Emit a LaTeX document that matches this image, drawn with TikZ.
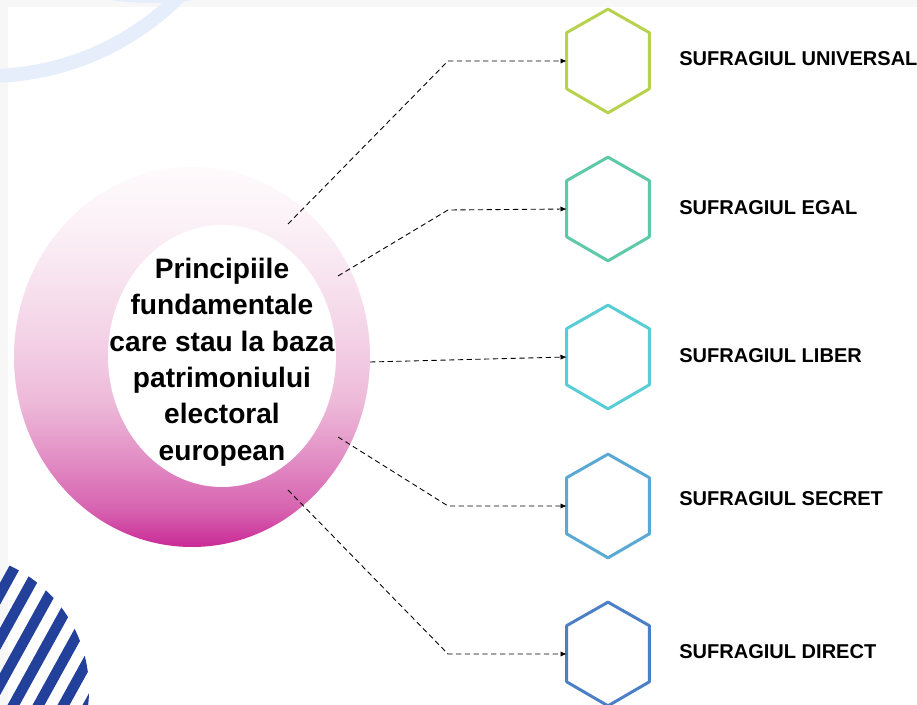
\documentclass[tikz,border=0pt]{standalone}
\usepackage{fontspec}
\setmainfont{Liberation Sans}
\usepackage{tikz}
\usetikzlibrary{arrows.meta}

\definecolor{ringA}{HTML}{C92A95}
\definecolor{ringB}{HTML}{D763B0}
\definecolor{ringC}{HTML}{E497C9}
\definecolor{ringD}{HTML}{EDB9D8}
\definecolor{ringE}{HTML}{F2CBE3}
\definecolor{ringF}{HTML}{F6DDEC}
\definecolor{ringG}{HTML}{FBF0F6}
\definecolor{ringH}{HTML}{FEFAFC}
\definecolor{swirl}{HTML}{E6EEFC}
\definecolor{stripe}{HTML}{23409A}
\definecolor{framegray}{HTML}{F7F7F7}
\definecolor{hexA}{HTML}{B7D24E}
\definecolor{hexB}{HTML}{5DC9A9}
\definecolor{hexC}{HTML}{58CDD6}
\definecolor{hexD}{HTML}{5AA9D5}
\definecolor{hexE}{HTML}{4C80C6}

\pgfdeclareverticalshading{ringfade}{100bp}{color(0bp)=(ringA); color(25bp)=(ringA); color(30bp)=(ringB); color(38bp)=(ringC); color(44bp)=(ringD); color(50bp)=(ringE); color(57.5bp)=(ringF); color(66.7bp)=(ringG); color(75bp)=(ringH); color(100bp)=(ringH)}

\tikzset{
  hexbox/.style={minimum width=1.64cm, minimum height=2.06cm, inner sep=0pt},
  hexline/.style={line width=1.7pt, line join=round},
  lbl/.style={anchor=west, inner sep=0pt, font=\fontsize{11.4}{13}\selectfont\bfseries},
  link/.style={densely dashed, line width=0.5pt, -{Latex[length=3.5pt,width=3pt]}},
}
\newcommand{\hexa}[2]{\draw[hexline,#2] (#1.north) -- ([yshift=-0.47cm]#1.north east) -- ([yshift=0.48cm]#1.south east) -- (#1.south) -- ([yshift=0.48cm]#1.south west) -- ([yshift=-0.47cm]#1.north west) -- cycle;}

\begin{document}
\begin{tikzpicture}[x=0.02cm, y=-0.02cm]
\useasboundingbox (0,0) rectangle (917,705);
\clip (0,0) rectangle (917,705);
\fill[white] (0,0) rectangle (917,705);
\fill[framegray] (0,0) rectangle (917,7);
\fill[framegray] (0,0) rectangle (8,705);
% corner decorations
\draw[swirl, line width=7.9pt] (-13,-196) circle [radius=272];
\draw[swirl, line width=7.9pt] (152,-291) circle [radius=287];
\begin{scope}
\clip (-48,690) circle [radius=137];
\foreach \k in {-6,...,5}
  \draw[stripe, line width=6pt] (16+25*\k-24,744) -- (16+25*\k+97,525);
\end{scope}
% ring
\shade[shading=ringfade] (192,357) ellipse [x radius=178, y radius=190];
\fill[white] (222,356) ellipse [x radius=114, y radius=131];
\node[align=center, inner sep=0pt, font=\fontsize{16}{20.7}\selectfont\bfseries] (title) at (222,362) {Principiile\\fundamentale\\care stau la baza\\patrimoniului\\electoral\\european};
% hexagons
\node[hexbox] (h1) at (608,61) {};
\node[hexbox] (h2) at (608,209) {};
\node[hexbox] (h3) at (608,357) {};
\node[hexbox] (h4) at (608,506) {};
\node[hexbox] (h5) at (608,654) {};
\hexa{h1}{hexA}
\hexa{h2}{hexB}
\hexa{h3}{hexC}
\hexa{h4}{hexD}
\hexa{h5}{hexE}
\node[lbl] (l1) at (679,59) {SUFRAGIUL UNIVERSAL};
\node[lbl] (l2) at (679,208) {SUFRAGIUL EGAL};
\node[lbl] (l3) at (679,356) {SUFRAGIUL LIBER};
\node[lbl] (l4) at (679,499) {SUFRAGIUL SECRET};
\node[lbl] (l5) at (679,652) {SUFRAGIUL DIRECT};
% connectors
\coordinate (s1) at (288,224);
\coordinate (s2) at (338,276);
\coordinate (s3) at (370,362);
\coordinate (s4) at (338,437);
\coordinate (s5) at (288,490);
\coordinate (b1) at (448,61);
\coordinate (b2) at (448,210);
\coordinate (b4) at (448,506);
\coordinate (b5) at (448,654);
\draw[link] (s1) -- (b1) -- (h1.west);
\draw[link] (s2) -- (b2) -- (h2.west);
\draw[link] (s3) -- (h3.west);
\draw[link] (s4) -- (b4) -- (h4.west);
\draw[link] (s5) -- (b5) -- (h5.west);
\end{tikzpicture}
\end{document}
